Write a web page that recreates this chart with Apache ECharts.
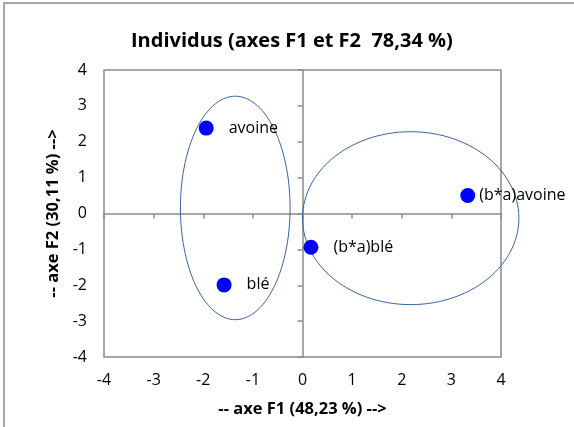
<!DOCTYPE html>
<html>
<head>
<meta charset="utf-8">
<script src="https://cdn.jsdelivr.net/npm/echarts@6/dist/echarts.min.js"></script>
<style>
  html, body { margin: 0; padding: 0; background: #fff; }
  #chart { width: 574px; height: 427px; }
</style>
</head>
<body>
<div id="chart"></div>
<script>
// Individuals on the first factorial plane (F1 x F2)
const names = ['avoine', 'blé', '(b*a)blé', '(b*a)avoine'];
const f1 = [-1.94, -1.58, 0.17, 3.33];
const f2 = [2.38, -1.99, -0.94, 0.50];

// Group ellipses: centre (F1, F2) and half-axes
const ellCx = [-1.355, 2.18];
const ellCy = [0.155, -0.13];
const ellRx = [1.105, 2.18];
const ellRy = [3.115, 2.41];

const axisTicks = [-4, -3, -2, -1, 0, 1, 2, 3, 4];

const FONT = '"Open Sans", "Noto Sans", sans-serif';
const GRID = { left: 104, top: 70, right: 73, bottom: 70 };

const pointData = names.map((n, i) => ({
  value: [f1[i], f2[i]],
  name: n,
  label: { distance: n === '(b*a)avoine' ? 4 : 15 }
}));

const ellipseData = ellCx.map((c, i) => [c, ellCy[i], ellRx[i], ellRy[i]]);

const chart = echarts.init(document.getElementById('chart'), null, { renderer: 'canvas' });

chart.setOption({
  backgroundColor: '#fff',
  animation: false,
  title: {
    text: 'Individus (axes F1 et F2  78,34 %)',
    left: 126,
    top: 26,
    textStyle: { fontFamily: FONT, fontSize: 20, fontWeight: 'bold', color: '#000' }
  },
  graphic: [{
    type: 'rect',
    shape: { x: 4, y: 3, width: 600, height: 500 },
    style: { fill: 'none', stroke: '#8c8c8c', lineWidth: 1.5 },
    silent: true
  }],
  grid: [
    Object.assign({ show: true, borderColor: '#8a8a8a', borderWidth: 1.5, backgroundColor: 'transparent' }, GRID),
    Object.assign({ show: false }, GRID)
  ],
  xAxis: [{
    gridIndex: 0, type: 'value', min: axisTicks[0], max: axisTicks[axisTicks.length - 1], interval: 1,
    position: 'bottom',
    axisLine: { show: false, onZero: false }, axisTick: { show: false }, splitLine: { show: false },
    axisLabel: { margin: 15, fontFamily: FONT, fontSize: 16, color: '#000' },
    name: '-- axe F1 (48,23 %) -->', nameLocation: 'middle', nameGap: 44,
    nameTextStyle: { fontFamily: FONT, fontSize: 16.5, fontWeight: 'bold', color: '#000' }
  }, {
    gridIndex: 1, type: 'value', min: axisTicks[0], max: axisTicks[axisTicks.length - 1], interval: 1,
    axisLine: { show: true, onZero: true, lineStyle: { color: '#8a8a8a', width: 1.5 } },
    axisTick: { show: true, length: 5, lineStyle: { color: '#8a8a8a', width: 1.5 } },
    axisLabel: { show: false }, splitLine: { show: false }
  }],
  yAxis: [{
    gridIndex: 0, type: 'value', min: axisTicks[0], max: axisTicks[axisTicks.length - 1], interval: 1,
    position: 'left',
    axisLine: { show: false, onZero: false }, axisTick: { show: false }, splitLine: { show: false },
    axisLabel: { margin: 17, fontFamily: FONT, fontSize: 16, color: '#000' },
    name: '-- axe F2 (30,11 %) -->', nameLocation: 'middle', nameGap: 41,
    nameTextStyle: { fontFamily: FONT, fontSize: 16.5, fontWeight: 'bold', color: '#000' }
  }, {
    gridIndex: 1, type: 'value', min: axisTicks[0], max: axisTicks[axisTicks.length - 1], interval: 1,
    axisLine: { show: true, onZero: true, lineStyle: { color: '#8a8a8a', width: 1.5 } },
    axisTick: { show: true, length: 5, lineStyle: { color: '#8a8a8a', width: 1.5 } },
    axisLabel: { show: false }, splitLine: { show: false }
  }],
  series: [{
    type: 'custom',
    xAxisIndex: 0, yAxisIndex: 0,
    clip: false,
    silent: true,
    data: ellipseData,
    encode: { x: 0, y: 1 },
    renderItem: function (params, api) {
      const cx = api.value(0), cy = api.value(1), rx = api.value(2), ry = api.value(3);
      const pts = [];
      for (let k = 0; k < 120; k++) {
        const t = (k / 120) * Math.PI * 2;
        pts.push(api.coord([cx + rx * Math.cos(t), cy + ry * Math.sin(t)]));
      }
      return {
        type: 'polygon',
        shape: { points: pts },
        style: { fill: 'none', stroke: '#3c6299', lineWidth: 1 }
      };
    }
  }, {
    type: 'scatter',
    xAxisIndex: 0, yAxisIndex: 0,
    symbol: 'circle',
    symbolSize: 15,
    itemStyle: { color: '#0000ff', opacity: 1 },
    label: {
      show: true,
      position: 'right',
      formatter: p => p.name,
      fontFamily: FONT, fontSize: 16, color: '#000'
    },
    data: pointData,
    z: 5
  }]
});
</script>
</body>
</html>
